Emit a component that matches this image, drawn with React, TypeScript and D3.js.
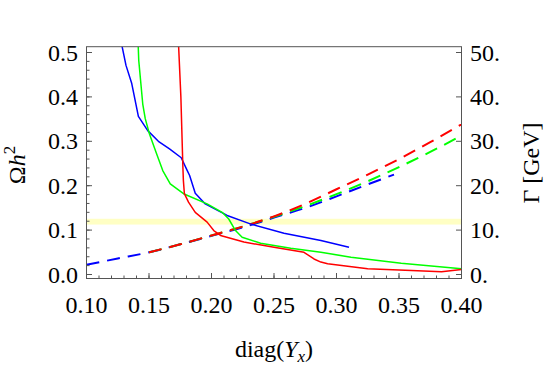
import React from "react";
import * as d3 from "d3";

// ---- data ----
// Ω h² curves (left axis)
const blueX = [0.128, 0.1316, 0.1362, 0.1415, 0.149, 0.1575, 0.1664, 0.1758, 0.1806, 0.1825, 0.187, 0.195, 0.2125, 0.231, 0.258, 0.2875, 0.31];
const blueOmega = [0.52, 0.471, 0.43, 0.356, 0.324, 0.3, 0.283, 0.263, 0.234, 0.223, 0.183, 0.159, 0.133, 0.114, 0.093, 0.0766, 0.0615];

const greenX = [0.1413, 0.1418, 0.145, 0.147, 0.1503, 0.1557, 0.161, 0.167, 0.1776, 0.1965, 0.2085, 0.2138, 0.2192, 0.2245, 0.2393, 0.2634, 0.2875, 0.3116, 0.3518, 0.4];
const greenOmega = [0.52, 0.482, 0.384, 0.351, 0.317, 0.275, 0.234, 0.204, 0.182, 0.159, 0.14, 0.125, 0.099, 0.084, 0.0705, 0.059, 0.05, 0.039, 0.0255, 0.0128];

const redX = [0.1736, 0.1755, 0.1771, 0.1775, 0.1783, 0.1816, 0.187, 0.1965, 0.2018, 0.2072, 0.2259, 0.25, 0.274, 0.282, 0.2875, 0.2929, 0.325, 0.36, 0.384, 0.4];
const redOmega = [0.52, 0.4, 0.242, 0.212, 0.182, 0.163, 0.14, 0.118, 0.099, 0.088, 0.073, 0.0615, 0.05, 0.035, 0.028, 0.024, 0.0128, 0.009, 0.0063, 0.0112];

// Γ curves (right axis, GeV)
const blueGX = [0.1, 0.125, 0.15, 0.175, 0.2, 0.225, 0.25, 0.275, 0.3, 0.325, 0.346];
const blueGamma = [2.2, 3.6, 5.0, 6.8, 8.7, 10.6, 12.8, 15.0, 17.6, 20.3, 22.5];

const greenGX = [0.15, 0.175, 0.2, 0.225, 0.25, 0.275, 0.3, 0.325, 0.35, 0.375, 0.4];
const greenGamma = [5.0, 6.8, 8.8, 10.8, 13.0, 15.4, 18.1, 21.0, 24.2, 27.6, 31.3];

const redGX = [0.15, 0.175, 0.2, 0.225, 0.25, 0.275, 0.3, 0.325, 0.35, 0.375, 0.4];
const redGamma = [5.0, 6.8, 8.8, 10.8, 13.1, 15.9, 19.2, 22.5, 26.0, 29.8, 33.8];

// relic band
const bandOmega = [0.1125, 0.1255];

// ticks
const xTicks = [0.1, 0.15, 0.2, 0.25, 0.3, 0.35, 0.4];
const xTickLabels = ["0.10", "0.15", "0.20", "0.25", "0.30", "0.35", "0.40"];
const yTicks = [0, 0.1, 0.2, 0.3, 0.4, 0.5];
const yTickLabels = ["0.0", "0.1", "0.2", "0.3", "0.4", "0.5"];
const gTicks = [0, 10, 20, 30, 40, 50];
const gTickLabels = ["0.", "10.", "20.", "30.", "40.", "50."];

// ---- layout ----
const W = 548;
const H = 366;
const left = 86.5;
const right = 461.5;
const top = 46.7;
const bottom = 278.5;
const y0 = 274.5;
const y5 = 52.5;
const FONT = "Liberation Serif, Times New Roman, serif";
const frameColor = "#555";

export default function App() {
  const x = d3.scaleLinear().domain([0.1, 0.4]).range([left, right]);
  const y = d3.scaleLinear().domain([0, 0.5]).range([y0, y5]);
  const yG = d3.scaleLinear().domain([0, 50]).range([y0, y5]);

  const solid = (xs: number[], vs: number[]) =>
    d3.line<number>().x((_, i) => x(xs[i])).y((v) => y(v)).curve(d3.curveLinear)(vs) || "";
  const dashed = (xs: number[], vs: number[]) =>
    d3.line<number>().x((_, i) => x(xs[i])).y((v) => yG(v)).curve(d3.curveMonotoneX)(vs) || "";

  const xMinor = d3.range(0.1, 0.4001, 0.01).map((v) => +v.toFixed(3));
  const yMinor = d3.range(0, 0.5001, 0.02).map((v) => +v.toFixed(3));

  const txt = { fontFamily: FONT, fontSize: "24px" } as React.CSSProperties;

  return (
    <svg
      width={W}
      height={H}
      style={{ position: "absolute", left: 0, top: 0, background: "#fff", fontFamily: FONT }}
    >
      <defs>
        <clipPath id="plot">
          <rect x={left} y={top} width={right - left} height={bottom - top} />
        </clipPath>
      </defs>

      {/* relic band */}
      <rect
        x={left}
        width={right - left}
        y={y(bandOmega[1])}
        height={y(bandOmega[0]) - y(bandOmega[1])}
        fill="#ffffc4"
      />

      <g clipPath="url(#plot)" fill="none">
        <path d={dashed(blueGX, blueGamma)} stroke="#0000ff" strokeWidth={2} strokeDasharray="13,8" />
        <path d={dashed(greenGX, greenGamma)} stroke="#00ff00" strokeWidth={2} strokeDasharray="13,8" />
        <path d={dashed(redGX, redGamma)} stroke="#ff0000" strokeWidth={2} strokeDasharray="13,8" />
        <path d={solid(blueX, blueOmega)} stroke="#0000ff" strokeWidth={1.5} strokeLinejoin="round" />
        <path d={solid(greenX, greenOmega)} stroke="#00ff00" strokeWidth={1.5} strokeLinejoin="round" />
        <path d={solid(redX, redOmega)} stroke="#ff0000" strokeWidth={1.5} strokeLinejoin="round" />
      </g>

      {/* frame */}
      <rect x={left} y={top} width={right - left} height={bottom - top} fill="none" stroke={frameColor} strokeWidth={1} />

      {/* bottom ticks */}
      {xMinor.map((v, i) => (
        <line key={"xm" + i} x1={x(v)} x2={x(v)} y1={bottom} y2={bottom - 3} stroke={frameColor} />
      ))}
      {xTicks.map((v, i) => (
        <g key={"xt" + i}>
          <line x1={x(v)} x2={x(v)} y1={bottom} y2={bottom - 5.5} stroke={frameColor} />
          <text x={x(v)} y={313} textAnchor="middle" style={txt} fill="#000">
            {xTickLabels[i]}
          </text>
        </g>
      ))}

      {/* left ticks */}
      {yMinor.map((v, i) => (
        <line key={"ym" + i} x1={left} x2={left + 3} y1={y(v)} y2={y(v)} stroke={frameColor} />
      ))}
      {yTicks.map((v, i) => (
        <g key={"yt" + i}>
          <line x1={left} x2={left + 5.5} y1={y(v)} y2={y(v)} stroke={frameColor} />
          <text x={78} y={y(v) + 8} textAnchor="end" style={txt} fill="#000">
            {yTickLabels[i]}
          </text>
        </g>
      ))}

      {/* right ticks */}
      {gTicks.map((v, i) => (
        <g key={"gt" + i}>
          <line x1={right} x2={right - 5.5} y1={yG(v)} y2={yG(v)} stroke={frameColor} />
          <text x={470} y={yG(v) + 8} textAnchor="start" style={txt} fill="#000">
            {gTickLabels[i]}
          </text>
        </g>
      ))}

      {/* axis labels */}
      <text x={274} y={357} textAnchor="middle" style={txt} fill="#000">
        diag(<tspan fontStyle="italic">Y</tspan>
        <tspan fontStyle="italic" style={{ fontSize: "17px" }} dy={5}>x</tspan>
        <tspan dy={-5}>)</tspan>
      </text>
      <text transform="translate(25,165) rotate(-90)" textAnchor="middle" style={txt} fill="#000">
        Ω<tspan fontStyle="italic">h</tspan>
        <tspan style={{ fontSize: "17px" }} dy={-10}>2</tspan>
      </text>
      <text transform="translate(539,163) rotate(-90)" textAnchor="middle" style={txt} fill="#000">
        Γ [GeV]
      </text>
    </svg>
  );
}
